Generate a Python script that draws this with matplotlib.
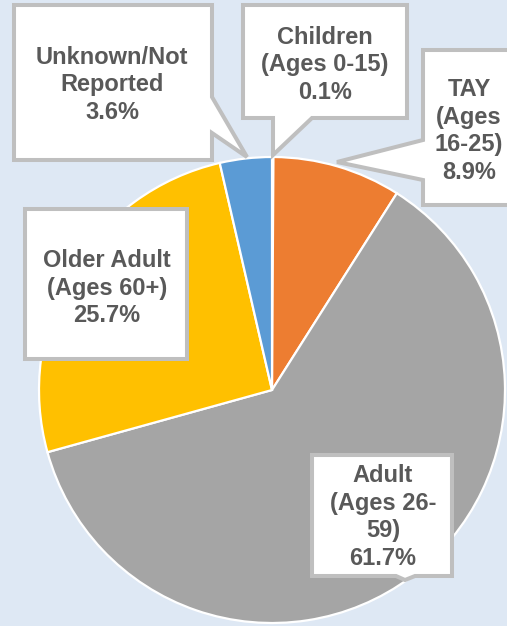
import matplotlib
matplotlib.use("Agg")
import matplotlib.pyplot as plt
from matplotlib.patches import Polygon

# ---- data ----
categories = ["Children (Ages 0-15)", "TAY (Ages 16-25)", "Adult (Ages 26-59)",
              "Older Adult (Ages 60+)", "Unknown/Not Reported"]
values = [0.1, 8.9, 61.7, 25.7, 3.6]
label_text = ["Children\n(Ages 0-15)", "TAY\n(Ages\n16-25)", "Adult\n(Ages 26-\n59)",
              "Older Adult\n(Ages 60+)", "Unknown/Not\nReported"]
colors = ["#4472C4", "#ED7D31", "#A5A5A5", "#FFC000", "#5B9BD5"]

W, H = 507, 626
BG = "#DEE8F4"
TXT = "#595959"
BORDER = "#BFBFBF"

fig = plt.figure(figsize=(W / 100, H / 100), dpi=100, facecolor=BG)
ax = fig.add_axes([0, 0, 1, 1])
ax.set_facecolor(BG)

def P(x, y):
    return (x, H - y)

ax.pie(values, colors=colors, startangle=90, counterclock=False,
       center=P(272, 390), radius=233,
       wedgeprops=dict(edgecolor="white", linewidth=1.6, joinstyle="miter"),
       frame=True)

# callout boxes (pixel outlines)
shapes = [
    [(243, 5), (407, 5), (407, 118), (312, 118), (273, 155), (273, 118), (243, 118)],
    [(423, 50), (520, 50), (520, 205), (423, 205), (423, 180), (337, 162), (423, 140)],
    [(312, 455), (452, 455), (452, 576), (415, 576), (405, 580), (396, 576), (312, 576)],
    [(25, 209), (187, 209), (187, 359), (25, 359)],
    [(14, 5), (212, 5), (212, 97), (247, 157), (212, 133), (212, 160), (14, 160)],
]
text_pos = [(325, 65), (469, 131), (383, 517), (107, 288), (112, 85)]

for shp, (tx, ty), lab, v in zip(shapes, text_pos, label_text, values):
    ax.add_patch(Polygon([P(x, y) for x, y in shp], closed=True, facecolor="white",
                         edgecolor=BORDER, linewidth=2.9, joinstyle="miter", zorder=5))
    ax.text(*P(tx, ty), f"{lab}\n{v:.1f}%", ha="center", va="center",
            fontsize=17, fontweight="bold", color=TXT, family="Liberation Sans",
            linespacing=1.25, zorder=6)

ax.set_xlim(0, W)
ax.set_ylim(0, H)
ax.set_aspect("equal")
ax.set_axis_off()
fig.savefig("out.png", dpi=100, facecolor=BG)
